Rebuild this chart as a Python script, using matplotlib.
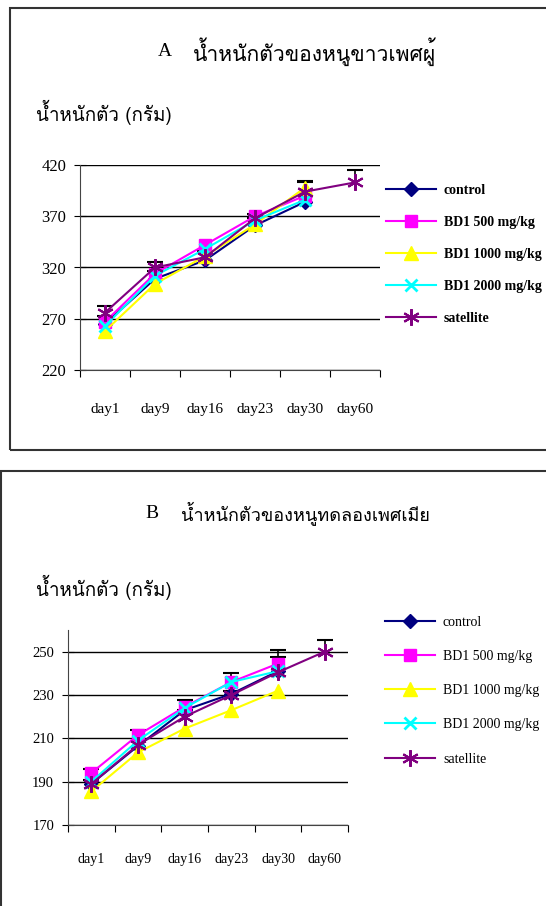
import matplotlib
matplotlib.use("Agg")
import matplotlib.pyplot as plt
from matplotlib import font_manager
from matplotlib.ft2font import FT2Font
from matplotlib.patches import Rectangle
from matplotlib.transforms import blended_transform_factory
import numpy as np

days = ["day1", "day9", "day16", "day23", "day30", "day60"]
series_names = ["control", "BD1 500 mg/kg", "BD1 1000 mg/kg", "BD1 2000 mg/kg", "satellite"]

# male rats (A)
male_control = [265, 309, 327, 361, 384, np.nan]
male_bd500 = [267, 314, 342, 370, 390, np.nan]
male_bd1000 = [258, 304, 331, 362, 398, np.nan]
male_bd2000 = [263, 312, 338, 366, 386, np.nan]
male_satellite = [276, 320, 330, 368, 394, 403]
male_control_err = [8, 8, 8, 7, 19, np.nan]
male_satellite_err = [6, 5, 6, 4, 10, 12]

# female rats (B)
female_control = [189, 206.5, 223, 230.5, 241, np.nan]
female_bd500 = [194, 211.5, 224.5, 236, 244.5, np.nan]
female_bd1000 = [185.5, 203.5, 214.5, 223, 232, np.nan]
female_bd2000 = [190, 209, 224, 236, 241, np.nan]
female_satellite = [189, 207, 220, 230, 240.5, 250]
female_bd500_err = [2, 2.5, 3, 4, 6.5, np.nan]
female_satellite_err = [2, 2, 3, 2, 7, 5.5]


def thai_font():
    # first installed family that actually carries Thai glyphs
    seen = set()
    for f in font_manager.fontManager.ttflist:
        if f.fname in seen:
            continue
        seen.add(f.fname)
        try:
            cmap = FT2Font(f.fname).get_charmap()
        except Exception:
            continue
        if ord("น") in cmap and ord("ั") in cmap:
            return f.name
    return None


SERIF = "Liberation Serif"
_th = thai_font()
THAI = [_th, SERIF] if _th else [SERIF]

W, H = 546, 906
fig = plt.figure(figsize=(W / 100, H / 100), dpi=100)


def fx(px):
    return px / W


def fy(py):
    return 1 - py / H


styles = [
    dict(color="#000080", marker="D", ms=7, mec="#000080"),
    dict(color="#FF00FF", marker="s", ms=8.5, mec="#FF00FF"),
    dict(color="#FFFF00", marker="^", ms=9.5, mec="#FFFF00"),
    dict(color="#00FFFF", marker="x", ms=9, mew=2),
    dict(color="#800080", marker=(6, 2, 0), ms=12, mew=1.5),
]


def panel(box, ax_px, ylim, yticks, series, errs, letter, title, title_xy,
          title_gap, title_size, ylab_xy, leg_xy, leg_bold, tick_size,
          day_size, day_y, leg_spacing):
    # outer frame of the panel
    x0, y0, x1, y1 = box
    fig.patches.append(Rectangle((fx(x0), fy(y1)), fx(x1 - x0), fy(y0) - fy(y1),
                                 transform=fig.transFigure, fill=False,
                                 edgecolor="#333333", linewidth=1.5))
    l, t, r, b = ax_px
    ax = fig.add_axes([fx(l), fy(b), fx(r - l), fy(t) - fy(b)])
    x = np.arange(len(days)) + 0.5
    for vals, st, name in zip(series, styles, series_names):
        ax.plot(x, vals, lw=1.5, label=name, zorder=3, **st)
    for vals, e in errs:
        eb = ax.errorbar(x, vals, yerr=[np.zeros(len(e)), e], fmt="none",
                         ecolor="black", elinewidth=1.2, capsize=6, capthick=1.5,
                         zorder=2)
        # upper bars only: hide the cap sitting on the data point
        eb[1][0].set_visible(False)
    ax.set_xlim(0, len(days))
    ax.set_ylim(*ylim)
    ax.set_yticks(yticks)
    ax.set_xticks(np.arange(len(days) + 1))
    ax.set_xticklabels([])
    day_tr = blended_transform_factory(ax.transData, fig.transFigure)
    for xi, d in zip(x, days):
        ax.text(xi, fy(day_y), d, transform=day_tr, ha="center", va="center",
                fontsize=day_size, family=SERIF)
    ax.yaxis.grid(True, color="black", lw=1)
    ax.set_axisbelow(True)
    for s in ["top", "right"]:
        ax.spines[s].set_visible(False)
    ax.spines["left"].set_color("#444444")
    ax.spines["bottom"].set_color("#444444")
    ax.tick_params(axis="y", direction="inout", length=8, color="black",
                   labelsize=tick_size, pad=6)
    ax.tick_params(axis="x", direction="out", length=5, color="black")
    for lab in ax.get_yticklabels():
        lab.set_family(SERIF)
    ax.set_facecolor("none")

    fig.text(fx(title_xy[0]), fy(title_xy[1]), letter, fontsize=14,
             family=SERIF, ha="left", va="center")
    fig.text(fx(title_xy[0] + title_gap), fy(title_xy[1]), title,
             fontsize=title_size, family=THAI, ha="left", va="center")
    fig.text(fx(ylab_xy[0]), fy(ylab_xy[1]), "น้ำหนักตัว (กรัม)", fontsize=13.5,
             family=THAI, ha="left", va="center")

    handles, labels = ax.get_legend_handles_labels()
    fig.legend(handles, labels, loc="upper left",
               bbox_to_anchor=(fx(leg_xy[0]), fy(leg_xy[1])), frameon=False,
               handlelength=3.6, handletextpad=0.6, labelspacing=leg_spacing,
               borderaxespad=0,
               prop=dict(family=SERIF, size=10,
                         weight="bold" if leg_bold else "normal"))
    return ax


panel(box=(10, 8, 560, 450), ax_px=(80, 165, 380, 370),
      ylim=(220, 420), yticks=[220, 270, 320, 370, 420],
      series=[male_control, male_bd500, male_bd1000, male_bd2000, male_satellite],
      errs=[(male_control, male_control_err), (male_satellite, male_satellite_err)],
      letter="A", title="น้ำหนักตัวของหนูขาวเพศผู้", title_xy=(158, 52),
      title_gap=35, title_size=15.2, ylab_xy=(36, 112), leg_xy=(380, 178),
      leg_bold=True, tick_size=12, day_size=11, day_y=410, leg_spacing=1.38)

panel(box=(1, 471, 560, 920), ax_px=(68, 630, 348, 825),
      ylim=(170, 260), yticks=[170, 190, 210, 230, 250],
      series=[female_control, female_bd500, female_bd1000, female_bd2000, female_satellite],
      errs=[(female_bd500, female_bd500_err), (female_satellite, female_satellite_err)],
      letter="B", title="น้ำหนักตัวของหนูทดลองเพศเมีย", title_xy=(145, 513),
      title_gap=36, title_size=13, ylab_xy=(36, 587), leg_xy=(379, 610),
      leg_bold=False, tick_size=10.5, day_size=10, day_y=860, leg_spacing=1.53)

fig.savefig("out.png", dpi=100)
